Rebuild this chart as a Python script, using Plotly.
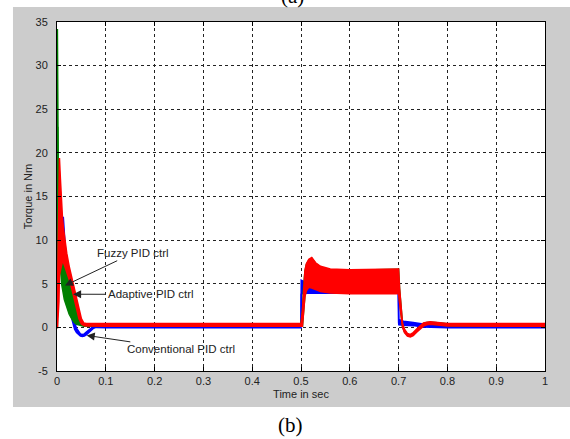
import plotly.graph_objects as go

# ---------------- data ----------------
# Conventional PID ctrl (blue): time, lower / upper envelope of the trace
conv_t = [0, 0.0008, 0.002, 0.005, 0.008, 0.011, 0.013, 0.016, 0.02, 0.024, 0.028,
          0.032, 0.036, 0.04, 0.044, 0.048, 0.052, 0.056, 0.06, 0.065, 0.07, 0.075,
          0.08, 0.09, 0.1, 0.5, 0.5005, 0.504, 0.508, 0.514, 0.52, 0.53, 0.55, 0.6,
          0.699, 0.7, 0.7005, 0.71, 0.73, 0.75, 0.8, 1.0]
conv_lo = [0, 16.5, 14, 10, 9, 9.5, 10.5, 7, 4.5, 2.8, 1.5,
           0.5, -0.2, -0.6, -0.85, -1.0, -1.05, -1.0, -0.85, -0.6, -0.3, -0.1,
           0.0, -0.05, -0.05, -0.05, 3.8, 3.9, 3.9, 3.9, 3.9, 3.9, 3.9, 3.9,
           3.9, 0.55, 0.3, 0.25, 0.2, 0.05, -0.05, -0.05]
conv_hi = [0, 18.8, 17, 13, 12, 12.6, 12.6, 10, 7, 4.5, 2.8,
           1.5, 0.6, -0.1, -0.5, -0.75, -0.8, -0.75, -0.55, -0.3, 0.0, 0.15,
           0.25, 0.25, 0.25, 0.25, 5.4, 5.3, 4.7, 4.8, 4.8, 4.5, 4.3, 4.2,
           4.2, 4.0, 0.9, 0.7, 0.55, 0.4, 0.25, 0.25]

# Fuzzy PID ctrl (green)
fuzzy_t = [0, 0.0008, 0.0015, 0.002, 0.003, 0.005, 0.008, 0.01, 0.015, 0.02, 0.025,
           0.03, 0.035, 0.04, 0.045, 0.05, 0.055, 0.1, 0.5, 0.503, 0.505, 0.508,
           0.511, 0.516, 0.522, 0.53, 0.54, 0.56, 0.6, 0.7, 0.702, 0.705, 0.708,
           0.712, 0.718, 0.724, 0.73, 0.737, 0.744, 0.751, 0.758, 0.765, 0.775,
           0.785, 0.8, 1.0]
fuzzy_lo = [0, 0, 23, 14, 11, 8, 6, 4.8, 3.2, 2.2, 1.5,
            1.0, 0.6, 0.35, 0.25, 0.15, 0.12, 0.12, 0.12, 0.12, 1.6, 3.6,
            4.3, 4.7, 4.6, 4.4, 4.2, 4.05, 3.95, 3.95, 2.9, 1.5, 0.1,
            -0.5, -0.9, -1.0, -0.85, -0.45, -0.05, 0.2, 0.35, 0.4, 0.35,
            0.3, 0.2, 0.15]
fuzzy_hi = [0, 34.2, 33.5, 23, 15, 11, 8.5, 7.8, 7, 6.5, 5.8,
            5, 4, 2.8, 1.5, 0.6, 0.4, 0.42, 0.42, 1.9, 4.4, 6.4,
            7.2, 7.7, 7.95, 7.3, 6.9, 6.6, 6.55, 6.65, 4.4, 2.1, 0.4,
            -0.3, -0.8, -0.9, -0.7, -0.3, 0.1, 0.45, 0.55, 0.6, 0.55,
            0.5, 0.42, 0.42]

# Adaptive PID ctrl (red)
adapt_t = [0, 0.001, 0.004, 0.005, 0.007, 0.009, 0.011, 0.013, 0.016, 0.02, 0.025,
           0.03, 0.035, 0.04, 0.045, 0.05, 0.055, 0.06, 0.1, 0.5, 0.503, 0.505,
           0.508, 0.511, 0.516, 0.522, 0.53, 0.54, 0.56, 0.6, 0.699, 0.7, 0.702,
           0.705, 0.708, 0.712, 0.718, 0.724, 0.73, 0.737, 0.744, 0.751, 0.758,
           0.765, 0.775, 0.785, 0.8, 1.0]
adapt_lo = [0, 0, 3, 6, 6.5, 7, 7.5, 7.5, 7, 6.5, 5.5,
            4.5, 3.2, 2.0, 1.0, 0.4, 0.2, 0.15, 0.12, 0.12, 0.12, 1.5,
            3.5, 4.2, 4.6, 4.5, 4.3, 4.1, 3.95, 3.85, 3.85, 3.85, 2.8,
            1.4, 0.0, -0.6, -1.0, -1.1, -0.95, -0.55, -0.15, 0.15, 0.3,
            0.35, 0.3, 0.25, 0.15, 0.12]
adapt_hi = [0, 3, 12, 19.4, 17, 14.5, 12.8, 11.5, 10, 8.5, 7,
            5.8, 4.8, 3.5, 2.2, 1.0, 0.5, 0.45, 0.45, 0.45, 2.0, 4.5,
            6.5, 7.3, 7.8, 8.0, 7.4, 7.0, 6.7, 6.6, 6.7, 6.7, 4.5,
            2.2, 0.5, -0.2, -0.7, -0.8, -0.6, -0.2, 0.2, 0.5, 0.6,
            0.65, 0.6, 0.55, 0.45, 0.45]

x_ticks = [0, 0.1, 0.2, 0.3, 0.4, 0.5, 0.6, 0.7, 0.8, 0.9, 1]
y_ticks = [-5, 0, 5, 10, 15, 20, 25, 30, 35]

# annotation anchor values (data units): label, head (t, y), text (t, y)
labels = ["Fuzzy PID ctrl", "Adaptive PID ctrl", "Conventional PID ctrl"]
head_t = [0.0164, 0.033, 0.0609]
head_y = [4.8, 3.8, -0.92]
text_t = [0.1557, 0.1916, 0.254]
text_y = [8.5, 3.78, -2.52]

# ---------------- figure ----------------
fig = go.Figure()


def band(t, lo, hi, color, name):
    fig.add_trace(go.Scatter(x=t, y=lo, mode="lines", line=dict(color=color, width=1.5),
                             showlegend=False, hoverinfo="skip"))
    fig.add_trace(go.Scatter(x=t, y=hi, mode="lines", line=dict(color=color, width=1.5),
                             fill="tonexty", fillcolor=color, name=name,
                             showlegend=False))


band(conv_t, conv_lo, conv_hi, "#0000ff", "Conventional PID ctrl")
band(fuzzy_t, fuzzy_lo, fuzzy_hi, "#008000", "Fuzzy PID ctrl")
band(adapt_t, adapt_lo, adapt_hi, "#ff0000", "Adaptive PID ctrl")

axis_font = dict(family="Liberation Sans, Arial, sans-serif", size=11, color="#222222")

fig.update_xaxes(range=[0, 1], tickvals=x_ticks, ticktext=[("%g" % v) for v in x_ticks],
                 showgrid=True, gridcolor="#222222", griddash="3px,3px", gridwidth=1,
                 zeroline=False, showline=True, linecolor="black", linewidth=1, mirror="ticks",
                 ticks="inside", ticklen=4, tickcolor="black", tickfont=axis_font,
                 title=dict(text="Time in sec", font=axis_font, standoff=4))
fig.update_yaxes(range=[-5, 35], tickvals=y_ticks, ticktext=[str(v) for v in y_ticks],
                 showgrid=True, gridcolor="#222222", griddash="3px,3px", gridwidth=1,
                 zeroline=False, showline=True, linecolor="black", linewidth=1, mirror="ticks",
                 ticks="inside", ticklen=4, tickcolor="black", tickfont=axis_font,
                 ticklabelstandoff=6,
                 title=dict(text="Torque in Nm", font=axis_font, standoff=0))

shapes = [
    dict(type="rect", xref="paper", yref="paper", x0=-0.0902, x1=1.08, y0=-0.103, y1=1.043,
         fillcolor="#cccccc", line=dict(width=0), layer="below"),
    dict(type="rect", xref="paper", yref="paper", x0=0, x1=1, y0=0, y1=1,
         fillcolor="white", line=dict(width=0), layer="below"),
]

annotations = []
for lab, hx, hy, tx, ty in zip(labels, head_t, head_y, text_t, text_y):
    annotations.append(dict(x=hx, y=hy, ax=tx, ay=ty, xref="x", yref="y", axref="x", ayref="y",
                            text=lab, showarrow=True, arrowhead=2, arrowsize=1.6, arrowwidth=1,
                            arrowcolor="#222222", standoff=0,
                            font=dict(family="Liberation Sans, Arial, sans-serif", size=11.5,
                                      color="#222222")))
annotations.append(dict(x=0.4775, y=-0.155, xref="paper", yref="paper", text="(b)",
                        xanchor="center", yanchor="middle",
                        showarrow=False, font=dict(family="Liberation Serif, Times New Roman, serif",
                                                   size=21, color="black")))
annotations.append(dict(x=0.482, y=1.075, xref="paper", yref="paper", text="(a)",
                        xanchor="center", yanchor="middle",
                        showarrow=False, font=dict(family="Liberation Serif, Times New Roman, serif",
                                                   size=21, color="black")))

fig.update_layout(width=570, height=439, margin=dict(l=57, r=25, t=22, b=68),
                  paper_bgcolor="white", plot_bgcolor="white",
                  shapes=shapes, annotations=annotations, showlegend=False)

fig.write_html("out.html", config={"displayModeBar": False},
               post_script="document.body.style.margin='0px';document.body.style.overflow='hidden';")
